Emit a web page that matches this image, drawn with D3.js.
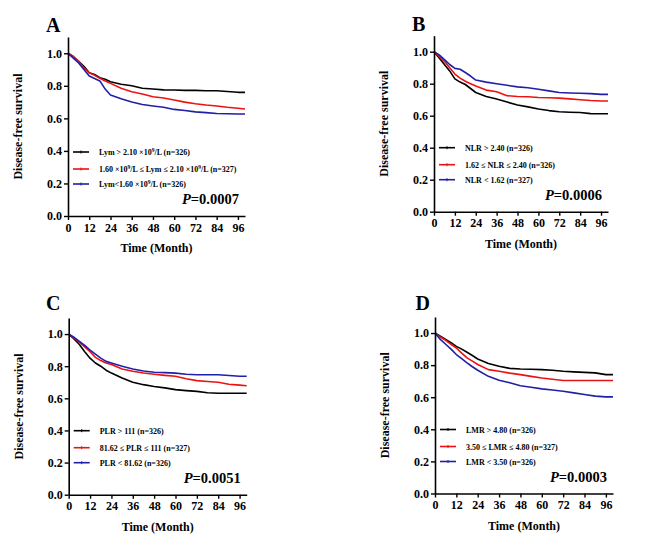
<!DOCTYPE html>
<html><head><meta charset="utf-8">
<script src="https://cdn.jsdelivr.net/npm/d3@7"></script>
<style>
html,body{margin:0;padding:0;background:#fff;}
</style></head>
<body>
<svg id="chart" width="650" height="546" font-family="Liberation Serif" font-weight="bold"></svg>
<script>
// ---------- data ----------
const months = [0,3,6,9,12,15,18,21,24,30,36,42,48,54,60,66,72,78,84,90,96,100];
const xTicks = [0,12,24,36,48,60,72,84,96];
const yTicks = [0,0.2,0.4,0.6,0.8,1.0];
const panelLabels = ["A","B","C","D"];
const pValues = ["0.0007","0.0006","0.0051","0.0003"];
const seriesColors = ["#000000","#ee1111","#1f1fa8"];

// Panel A: lymphocyte count
const lymHigh = [1.0,0.98,0.95,0.92,0.88,0.87,0.85,0.84,0.825,0.81,0.80,0.785,0.78,0.775,0.774,0.772,0.772,0.77,0.77,0.765,0.76,0.76];
const lymMid  = [1.0,0.98,0.95,0.91,0.88,0.865,0.846,0.83,0.815,0.785,0.764,0.75,0.733,0.725,0.713,0.70,0.69,0.682,0.676,0.668,0.662,0.658];
const lymLow  = [1.0,0.97,0.94,0.90,0.86,0.845,0.83,0.78,0.744,0.72,0.70,0.685,0.676,0.668,0.655,0.648,0.64,0.635,0.63,0.628,0.627,0.627];
const lymLegend = [
  ["Lym > 2.10 ×10","9","/L (n=326)"],
  ["1.60 ×10","9","/L ≤ Lym ≤ 2.10 ×10","9","/L (n=327)"],
  ["Lym<1.60 ×10","9","/L (n=326)"]
];
// Panel B: NLR
const nlrHigh = [1.0,0.96,0.92,0.88,0.83,0.81,0.795,0.77,0.745,0.72,0.704,0.685,0.667,0.655,0.642,0.632,0.625,0.622,0.62,0.613,0.612,0.612];
const nlrMid  = [1.0,0.97,0.94,0.90,0.86,0.835,0.815,0.80,0.785,0.76,0.75,0.725,0.72,0.718,0.714,0.712,0.71,0.705,0.70,0.695,0.692,0.692];
const nlrLow  = [1.0,0.98,0.95,0.92,0.896,0.89,0.87,0.848,0.823,0.81,0.80,0.79,0.78,0.775,0.765,0.755,0.745,0.742,0.74,0.738,0.733,0.733];
const nlrLegend = [["NLR > 2.40 (n=326)"],["1.62 ≤ NLR ≤ 2.40 (n=326)"],["NLR < 1.62 (n=327)"]];
// Panel C: PLR
const plrHigh = [1.0,0.97,0.935,0.89,0.85,0.82,0.80,0.775,0.757,0.726,0.70,0.685,0.674,0.665,0.654,0.648,0.643,0.635,0.632,0.632,0.632,0.632];
const plrMid  = [1.0,0.975,0.95,0.92,0.89,0.855,0.835,0.82,0.81,0.782,0.768,0.758,0.75,0.743,0.737,0.722,0.71,0.705,0.70,0.688,0.682,0.678];
const plrLow  = [1.0,0.98,0.955,0.93,0.90,0.875,0.85,0.83,0.82,0.80,0.783,0.77,0.762,0.76,0.757,0.75,0.747,0.747,0.747,0.742,0.737,0.737];
const plrLegend = [["PLR > 111 (n=326)"],["81.62 ≤ PLR ≤ 111 (n=327)"],["PLR < 81.62 (n=326)"]];
// Panel D: LMR
const lmrHigh = [1.0,0.98,0.96,0.94,0.917,0.90,0.88,0.86,0.838,0.81,0.793,0.78,0.776,0.774,0.772,0.768,0.762,0.758,0.755,0.752,0.741,0.741];
const lmrMid  = [1.0,0.975,0.955,0.93,0.907,0.875,0.845,0.825,0.804,0.772,0.762,0.75,0.741,0.73,0.72,0.712,0.704,0.704,0.704,0.704,0.704,0.704];
const lmrLow  = [1.0,0.96,0.93,0.90,0.866,0.84,0.814,0.79,0.768,0.73,0.706,0.69,0.672,0.662,0.652,0.645,0.637,0.627,0.617,0.607,0.602,0.602];
const lmrLegend = [["LMR > 4.80 (n=326)"],["3.50 ≤ LMR ≤ 4.80 (n=327)"],["LMR < 3.50 (n=326)"]];

// ---------- layout ----------
const FONT = "Liberation Serif";
const panels = [
  {label:panelLabels[0], p:pValues[0], series:[lymHigh,lymMid,lymLow], legend:lymLegend, left:68, right:245, top:37, bottom:216, lx:46, ly:32},
  {label:panelLabels[1], p:pValues[1], series:[nlrHigh,nlrMid,nlrLow], legend:nlrLegend, left:434, right:608, top:35.7, bottom:211.7, lx:412, ly:31},
  {label:panelLabels[2], p:pValues[2], series:[plrHigh,plrMid,plrLow], legend:plrLegend, left:68.7, right:246.7, top:318, bottom:494.7, lx:46, ly:310},
  {label:panelLabels[3], p:pValues[3], series:[lmrHigh,lmrMid,lmrLow], legend:lmrLegend, left:435, right:613, top:317, bottom:493.5, lx:415.5, ly:310}
];

const svg = d3.select("#chart");
function txt(sel){ return sel.attr("font-family",FONT).attr("font-weight","bold").attr("fill","#000"); }

panels.forEach(pn => {
  const x = d3.scaleLinear().domain([0,100]).range([pn.left, pn.right]);
  const y = d3.scaleLinear().domain([0,1.1]).range([pn.bottom, pn.top]);
  const g = svg.append("g");

  // curves
  const line = d3.line().x((d,i)=>x(months[i])).y(d=>y(d)).curve(d3.curveLinear);
  pn.series.forEach((s,si) => {
    g.append("path").datum(s).attr("d", line)
      .attr("fill","none").attr("stroke", seriesColors[si]).attr("stroke-width",1.6)
      .attr("stroke-linejoin","round");
  });

  // axes
  const yAx = g.append("g").attr("transform",`translate(${pn.left},0)`)
    .call(d3.axisLeft(y).tickValues(yTicks).tickFormat(d3.format(".1f")).tickSize(4).tickSizeOuter(0).tickPadding(2));
  const xAx = g.append("g").attr("transform",`translate(0,${pn.bottom})`)
    .call(d3.axisBottom(x).tickValues(xTicks).tickSize(4).tickSizeOuter(0).tickPadding(3));
  [yAx,xAx].forEach(a => {
    a.attr("font-family",FONT).attr("font-size",12);
    a.select(".domain").attr("stroke","#000").attr("stroke-width",1.6);
    a.selectAll(".tick line").attr("stroke","#000").attr("stroke-width",1.4);
    txt(a.selectAll(".tick text")).attr("font-size",12);
  });

  // axis titles
  txt(g.append("text")).attr("x",(pn.left+pn.right)/2).attr("y",pn.bottom+36)
    .attr("text-anchor","middle").attr("font-size",12).text("Time (Month)");
  txt(g.append("text")).attr("transform",`translate(${pn.left-46},${(pn.top+pn.bottom)/2}) rotate(-90)`)
    .attr("text-anchor","middle").attr("font-size",12).text("Disease-free survival");

  // panel label
  txt(g.append("text")).attr("x",pn.lx).attr("y",pn.ly).attr("font-size",20).text(pn.label);

  // legend
  const rows = [64,47,32];
  pn.legend.forEach((parts,i) => {
    const yy = pn.bottom - rows[i];
    g.append("line").attr("x1",pn.left+5).attr("x2",pn.left+21).attr("y1",yy).attr("y2",yy)
      .attr("stroke",seriesColors[i]).attr("stroke-width",1.6);
    g.append("line").attr("x1",pn.left+13).attr("x2",pn.left+13).attr("y1",yy-1.5).attr("y2",yy+1.5)
      .attr("stroke",seriesColors[i]).attr("stroke-width",1);
    const t = txt(g.append("text")).attr("x",pn.left+31).attr("y",yy+3).attr("font-size",8);
    parts.forEach((p,k) => {
      if (parts.length > 1 && k % 2 === 1) {
        t.append("tspan").attr("font-size",5.5).attr("dy",-3).text(p);
      } else {
        t.append("tspan").attr("dy", k>0 ? 3 : 0).text(p);
      }
    });
  });

  // P value
  const pt = txt(g.append("text")).attr("x",pn.right-6).attr("y",pn.bottom-12)
    .attr("text-anchor","end").attr("font-size",14.5);
  pt.append("tspan").attr("font-style","italic").text("P");
  pt.append("tspan").text("=" + pn.p);
});
</script>
</body></html>
